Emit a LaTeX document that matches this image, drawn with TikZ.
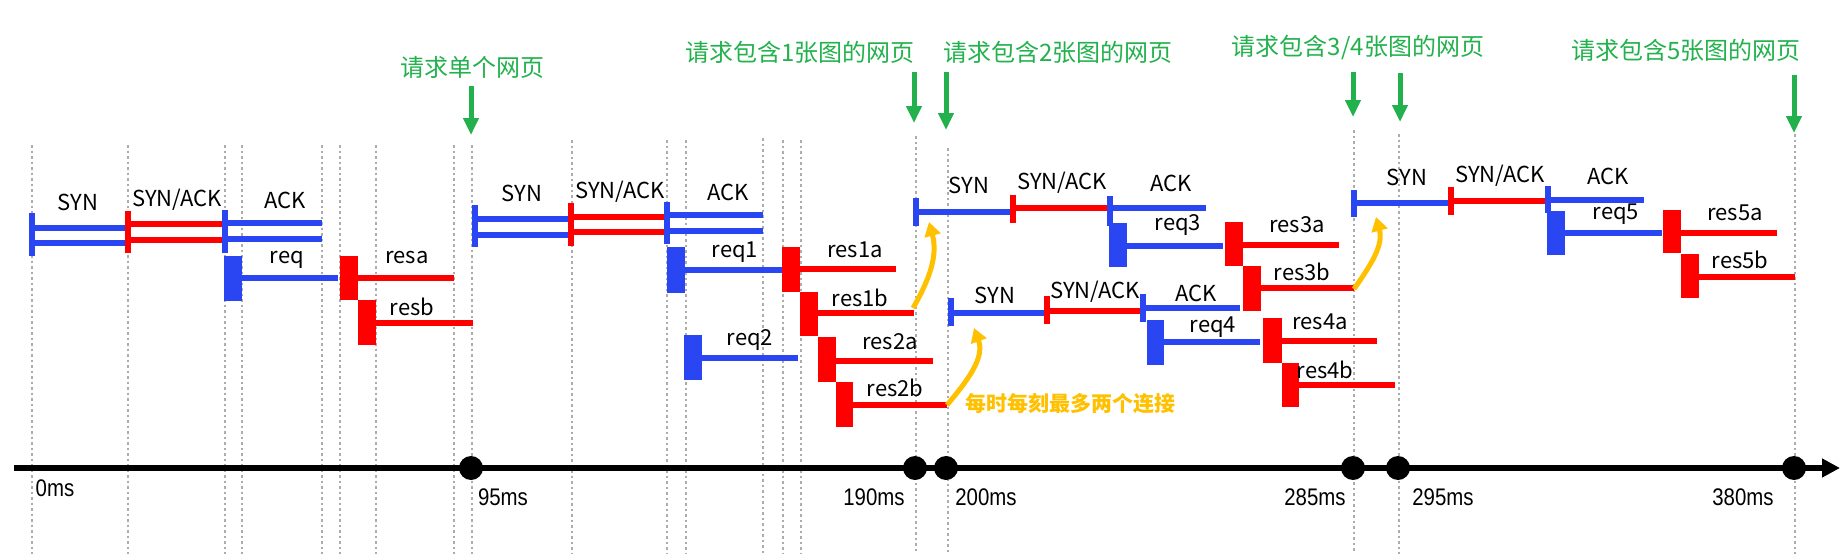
\documentclass[tikz,border=0pt]{standalone}
\usepackage{fontspec}
\setmainfont{Noto Sans CJK SC}
\newfontfamily\msfont[FakeStretch=0.85]{Liberation Sans}
\usetikzlibrary{arrows.meta}
\definecolor{synblue}{RGB}{42,70,242}
\definecolor{resred}{RGB}{255,0,0}
\definecolor{pagegreen}{RGB}{34,177,76}
\definecolor{limitorange}{RGB}{255,192,0}

\begin{document}
\begin{tikzpicture}[
	x = 1pt, y = -1pt,
	guide/.style = {draw=gray!65, line width=2.5pt, dash pattern=on 2.5pt off 3pt},
	wire/.style = {line width=5.5pt},
	lbl/.style = {inner sep=0pt, font=\fontsize{22}{24}\selectfont},
	page/.style = {inner sep=0pt, text=pagegreen, font=\fontsize{24}{26}\selectfont},
	ms/.style = {inner sep=0pt, font=\msfont\fontsize{24}{26}\selectfont},
	note/.style = {inner sep=0pt, text=limitorange, font=\bfseries\fontsize{21}{23}\selectfont},
	dot/.style = {circle, fill, inner sep=0pt, minimum size=24pt},
	pagearrow/.style = {pagegreen, line width=5pt, -{Triangle[length=17pt,width=15pt]}},
	limit/.style = {limitorange, line width=5pt, -{Triangle[length=14pt,width=16pt]}}
	]
	\useasboundingbox (0,0) rectangle (1845,554);
	\draw[guide] (32,145) -- (32,554) (128,145) -- (128,554) (225,145) -- (225,554)
	(242,145) -- (242,554) (322,145) -- (322,554) (340,145) -- (340,554)
	(376,145) -- (376,554) (454,145) -- (454,554) (472,145) -- (472,554)
	(572,140) -- (572,554) (667,140) -- (667,554) (686,140) -- (686,554)
	(763,138) -- (763,554) (783,140) -- (783,554) (801,140) -- (801,554)
	(916,136) -- (916,554) (948,148) -- (948,554) (1354,130) -- (1354,554)
	(1399,134) -- (1399,554) (1795,134) -- (1795,554);
	
	% single page
	\draw[wire,synblue] (32,213) -- (32,256) (32,228) -- (125,228) (32,243) -- (125,243);
	\draw[wire,resred] (128,211) -- (128,253) (128,224) -- (223,224) (128,240) -- (223,240);
	\draw[wire,synblue] (225,210) -- (225,253) (225,223) -- (322,223) (225,239) -- (322,239);
	\fill[synblue] (224,256) rectangle (242,301);
	\draw[wire,synblue] (242,278) -- (338,278);
	\fill[resred] (340,256) rectangle (358,300);
	\draw[wire,resred] (358,278) -- (454,278);
	\fill[resred] (358,300) rectangle (376,345);
	\draw[wire,resred] (376,323) -- (473,323);
	\node[lbl] (syn1) at (78,202) {SYN};
	\node[lbl] (synack1) at (177,200) {SYN/ACK};
	\node[lbl] (ack1) at (285,200) {ACK};
	\node[lbl] (req) at (287,260) {req};
	\node[lbl] (resa) at (407,258) {resa};
	\node[lbl] (resb) at (412,307) {resb};
	
	% page with 1 picture
	\draw[wire,synblue] (475,205) -- (475,247) (475,219) -- (570,219) (475,235) -- (570,235);
	\draw[wire,resred] (571,203) -- (571,246) (571,217) -- (667,217) (571,232) -- (667,232);
	\draw[wire,synblue] (667,202) -- (667,244) (667,215) -- (763,215) (667,231) -- (763,231);
	\fill[synblue] (667,247) rectangle (685,293);
	\draw[wire,synblue] (685,270) -- (782,270);
	\fill[resred] (782,247) rectangle (800,292);
	\draw[wire,resred] (800,269) -- (896,269);
	\fill[resred] (800,292) rectangle (818,336);
	\draw[wire,resred] (818,313) -- (914,313);
	\fill[synblue] (684,335) rectangle (702,380);
	\draw[wire,synblue] (702,358) -- (798,358);
	\fill[resred] (818,337) rectangle (836,382);
	\draw[wire,resred] (836,361) -- (933,361);
	\fill[resred] (836,382) rectangle (853,427);
	\draw[wire,resred] (853,405) -- (947,405);
	\node[lbl] (syn2) at (522,193) {SYN};
	\node[lbl] (synack2) at (620,192) {SYN/ACK};
	\node[lbl] (ack2) at (728,192) {ACK};
	\node[lbl] (req1) at (735,252) {req1};
	\node[lbl] (res1a) at (855,250) {res1a};
	\node[lbl] (res1b) at (860,298) {res1b};
	\node[lbl] (req2) at (750,340) {req2};
	\node[lbl] (res2a) at (890,342) {res2a};
	\node[lbl] (res2b) at (895,388) {res2b};
	
	% page with 2 pictures
	\draw[wire,synblue] (916,198) -- (916,226) (916,212) -- (1011,212);
	\draw[wire,resred] (1013,195) -- (1013,223) (1013,208) -- (1107,208);
	\draw[wire,synblue] (1110,196) -- (1110,226) (1110,208) -- (1206,208);
	\fill[synblue] (1109,223) rectangle (1127,267);
	\draw[wire,synblue] (1127,246) -- (1223,246);
	\fill[resred] (1225,222) rectangle (1243,266);
	\draw[wire,resred] (1243,245) -- (1339,245);
	\fill[resred] (1243,266) rectangle (1261,311);
	\draw[wire,resred] (1261,288) -- (1354,288);
	\node[lbl] (syn3) at (969,185) {SYN};
	\node[lbl] (synack3) at (1062,183) {SYN/ACK};
	\node[lbl] (ack3) at (1171,183) {ACK};
	\node[lbl] (req3) at (1178,225) {req3};
	\node[lbl] (res3a) at (1297,225) {res3a};
	\node[lbl] (res3b) at (1302,272) {res3b};
	
	\draw[wire,synblue] (951,298) -- (951,326) (951,313) -- (1047,313);
	\draw[wire,resred] (1047,296) -- (1047,324) (1047,311) -- (1143,311);
	\draw[wire,synblue] (1143,294) -- (1143,322) (1143,308) -- (1240,308);
	\fill[synblue] (1147,320) rectangle (1164,365);
	\draw[wire,synblue] (1164,342) -- (1260,342);
	\fill[resred] (1263,318) rectangle (1282,363);
	\draw[wire,resred] (1282,341) -- (1377,341);
	\fill[resred] (1282,363) rectangle (1299,407);
	\draw[wire,resred] (1299,385) -- (1395,385);
	\node[lbl] (syn4) at (995,295) {SYN};
	\node[lbl] (synack4) at (1095,292) {SYN/ACK};
	\node[lbl] (ack4) at (1196,293) {ACK};
	\node[lbl] (req4) at (1213,327) {req4};
	\node[lbl] (res4a) at (1320,322) {res4a};
	\node[lbl] (res4b) at (1325,370) {res4b};
	
	% page with 5 pictures
	\draw[wire,synblue] (1354,190) -- (1354,217) (1354,203) -- (1450,203);
	\draw[wire,resred] (1451,187) -- (1451,215) (1451,201) -- (1546,201);
	\draw[wire,synblue] (1548,186) -- (1548,213) (1548,200) -- (1644,200);
	\fill[synblue] (1547,211) rectangle (1565,255);
	\draw[wire,synblue] (1565,233) -- (1662,233);
	\fill[resred] (1663,210) rectangle (1681,253);
	\draw[wire,resred] (1681,233) -- (1777,233);
	\fill[resred] (1681,254) rectangle (1699,298);
	\draw[wire,resred] (1699,277) -- (1795,277);
	\node[lbl] (syn5) at (1407,177) {SYN};
	\node[lbl] (synack5) at (1500,176) {SYN/ACK};
	\node[lbl] (ack5) at (1608,176) {ACK};
	\node[lbl] (req5) at (1616,214) {req5};
	\node[lbl] (res5a) at (1735,213) {res5a};
	\node[lbl] (res5b) at (1740,260) {res5b};
	
	% two connections at most
	\coordinate (out1) at (913,308);
	\coordinate (in1) at (929,222);
	\coordinate (out2) at (947,405);
	\coordinate (in2) at (974,328);
	\coordinate (out3) at (1354,289);
	\coordinate (in3) at (1376,217);
	\draw[limit] (out1) to[out=60, in=-75] (in1);
	\draw[limit] (out2) to[out=50, in=-70] (in2);
	\draw[limit] (out3) to[out=55, in=-75] (in3);
	\node[note] (limit) at (1070,404) {每时每刻最多两个连接};
	
	% time axis
	\coordinate (t0) at (14,468);
	\coordinate (t1) at (1840,468);
	\draw[line width=6pt, -{Triangle[length=18pt,width=18pt]}] (t0) -- (t1);
	\node[dot] (m95) at (471,468) {};
	\node[dot] (m190) at (915,468) {};
	\node[dot] (m200) at (946,468) {};
	\node[dot] (m285) at (1353,468) {};
	\node[dot] (m295) at (1398,468) {};
	\node[dot] (m380) at (1794,468) {};
	\node[ms] (l0) at (55,488) {0ms};
	\node[ms] (l95) at (503,497) {95ms};
	\node[ms] (l190) at (874,497) {190ms};
	\node[ms] (l200) at (986,497) {200ms};
	\node[ms] (l285) at (1315,497) {285ms};
	\node[ms] (l295) at (1443,497) {295ms};
	\node[ms] (l380) at (1743,497) {380ms};
	
	% requests
	\node[page] (p1) at (472,67) {请求单个网页};
	\node[page] (p2) at (800,52) {请求包含1张图的网页};
	\node[page] (p3) at (1058,52) {请求包含2张图的网页};
	\node[page] (p4) at (1358,48) {请求包含3/4张图的网页};
	\node[page] (p5) at (1686,50) {请求包含5张图的网页};
	\coordinate (a1) at (471,86);   \coordinate (b1) at (471,135);
	\coordinate (a2) at (914,72);   \coordinate (b2) at (914,123);
	\coordinate (a3) at (946,72);   \coordinate (b3) at (946,130);
	\coordinate (a4) at (1353,72);  \coordinate (b4) at (1353,117);
	\coordinate (a5) at (1400,73);  \coordinate (b5) at (1400,122);
	\coordinate (a6) at (1794,75);  \coordinate (b6) at (1794,133);
	\draw[pagearrow] (a1) -- (b1);
	\draw[pagearrow] (a2) -- (b2);
	\draw[pagearrow] (a3) -- (b3);
	\draw[pagearrow] (a4) -- (b4);
	\draw[pagearrow] (a5) -- (b5);
	\draw[pagearrow] (a6) -- (b6);
\end{tikzpicture}
\end{document}
